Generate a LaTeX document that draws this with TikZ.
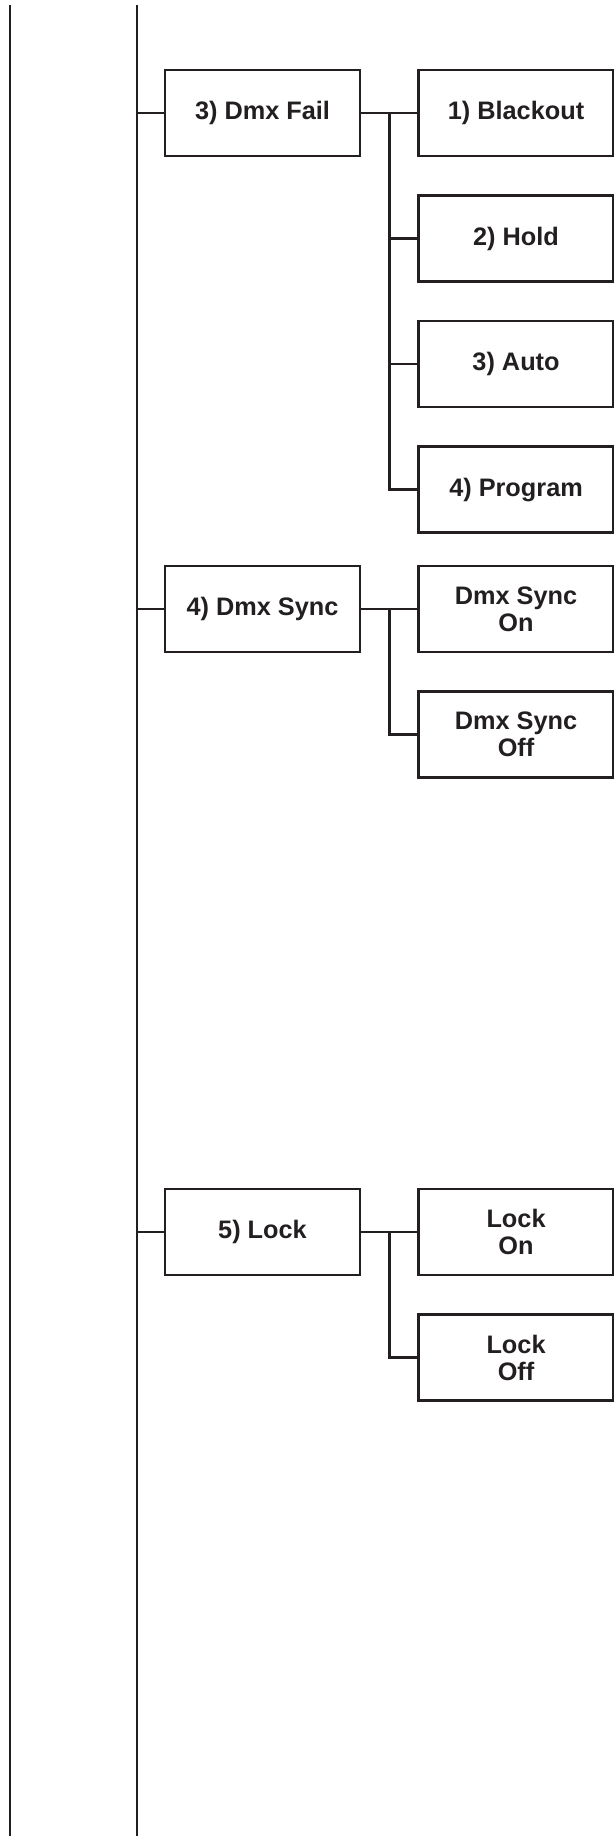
\documentclass[tikz,border=0pt]{standalone}
\usepackage{fontspec}
\setmainfont{Liberation Sans}
\usetikzlibrary{positioning, calc}
\definecolor{inkgray}{HTML}{231F20}

\begin{document}
\begin{tikzpicture}[
    x=0.2mm, y=-0.2mm,
    line width=1.45pt, draw=inkgray,
    every node/.style={font=\fontsize{14.4}{15.4}\selectfont\bfseries, text=inkgray},
    menubox/.style={draw, rectangle, minimum width=39mm, minimum height=17.2mm,
                    align=center, inner sep=0pt},
    node distance=7.4mm and 11.2mm,
  ]
  \useasboundingbox (0,0) rectangle (614,1836);

  % the two long rails
  \coordinate (outertop) at (10,5);
  \coordinate (outerbot) at (10,1836);
  \coordinate (spinetop) at (137,5);
  \coordinate (spinebot) at (137,1836);
  \draw (outertop) -- (outerbot);
  \draw (spinetop) -- (spinebot);

  % menu entries
  \node[menubox] (fail) at (262.5,113) {3) Dmx Fail};
  \node[menubox] (sync) at (262.5,609) {4) Dmx Sync};
  \node[menubox] (lock) at (262.5,1232) {5) Lock};

  % sub entries
  \node[menubox, right=of fail]    (blackout) {1) Blackout};
  \node[menubox, below=of blackout] (hold)    {2) Hold};
  \node[menubox, below=of hold]     (auto)    {3) Auto};
  \node[menubox, below=of auto]     (program) {4) Program};

  \node[menubox, right=of sync]   (syncon)  {Dmx Sync\\On};
  \node[menubox, below=of syncon] (syncoff) {Dmx Sync\\Off};

  \node[menubox, right=of lock]   (lockon)  {Lock\\On};
  \node[menubox, below=of lockon] (lockoff) {Lock\\Off};

  % rail to entries
  \foreach \m in {fail, sync, lock}
    \draw (spinetop |- \m.west) -- (\m.west);

  % entries to sub entries
  \draw (fail.east) -- (blackout.west);
  \draw (sync.east) -- (syncon.west);
  \draw (lock.east) -- (lockon.west);
  \coordinate (failfork) at ($(fail.east)!0.5!(blackout.west)$);
  \coordinate (syncfork) at ($(sync.east)!0.5!(syncon.west)$);
  \coordinate (lockfork) at ($(lock.east)!0.5!(lockon.west)$);
  \foreach \c in {hold, auto, program}
    \draw (failfork) |- (\c.west);
  \draw (syncfork) |- (syncoff.west);
  \draw (lockfork) |- (lockoff.west);
\end{tikzpicture}
\end{document}
